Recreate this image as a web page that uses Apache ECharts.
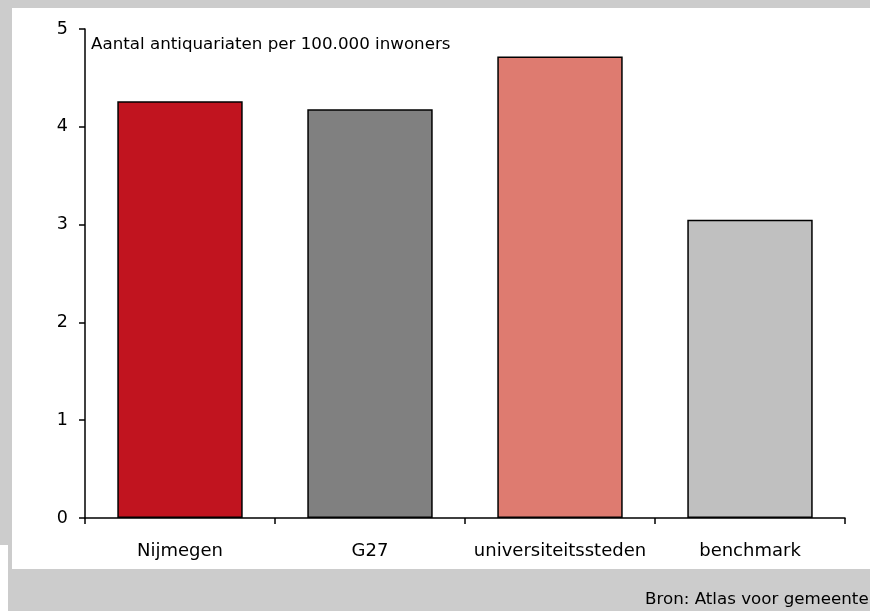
<!DOCTYPE html>
<html>
<head>
<meta charset="utf-8">
<script src="https://cdn.jsdelivr.net/npm/echarts@6/dist/echarts.min.js"></script>
<style>
  html, body { margin: 0; padding: 0; background: #cccccc; }
  #chart { width: 870px; height: 611px; }
</style>
</head>
<body>
<div id="chart"></div>
<script>
// Antiquarian bookshops per 100,000 inhabitants
const categories = ['Nijmegen', 'G27', 'universiteitssteden', 'benchmark'];
const values = [4.26, 4.18, 4.72, 3.05];
const barColors = ['#c1141f', '#808080', '#de7b70', '#c0c0c0'];
const yTicks = [0, 1, 2, 3, 4, 5];

const FONT = '"DejaVu Sans", "Open Sans", sans-serif';
const FS = 16.7;

const chart = echarts.init(document.getElementById('chart'), null, { renderer: 'canvas' });

chart.setOption({
  animation: false,
  backgroundColor: '#cccccc',
  graphic: [
    { type: 'rect', z: -10, shape: { x: 12, y: 8, width: 870, height: 561 }, style: { fill: '#ffffff' } },
    { type: 'rect', z: -10, shape: { x: 0, y: 545, width: 8, height: 66 }, style: { fill: '#ffffff' } },
    { type: 'text', left: 91, top: 36, style: { text: 'Aantal antiquariaten per 100.000 inwoners', font: FS + 'px ' + FONT, fill: '#000' } },
    { type: 'text', left: 645, top: 591, style: { text: 'Bron: Atlas voor gemeenten', font: FS + 'px ' + FONT, fill: '#000' } }
  ],
  grid: { left: 85, right: 25, top: 29, bottom: 93 },
  xAxis: {
    type: 'category',
    data: categories,
    axisLine: { lineStyle: { color: '#000', width: 1.5 } },
    axisTick: { show: true, inside: false, length: 6, lineStyle: { color: '#000', width: 1.5 } },
    axisLabel: { color: '#000', fontFamily: FONT, fontSize: 18, margin: 24, interval: 0 },
    splitLine: { show: false }
  },
  yAxis: {
    type: 'value',
    min: yTicks[0],
    max: yTicks[yTicks.length - 1],
    interval: 1,
    axisLine: { show: true, lineStyle: { color: '#000', width: 1.5 } },
    axisTick: { show: true, length: 6, lineStyle: { color: '#000', width: 1.5 } },
    axisLabel: { color: '#000', fontFamily: FONT, fontSize: 17.5, margin: 17 },
    splitLine: { show: false }
  },
  series: [{
    type: 'bar',
    barWidth: '66%',
    data: values.map((v, i) => ({
      value: v,
      itemStyle: { color: barColors[i], borderColor: '#000', borderWidth: 1.5 }
    }))
  }]
});
</script>
</body>
</html>
